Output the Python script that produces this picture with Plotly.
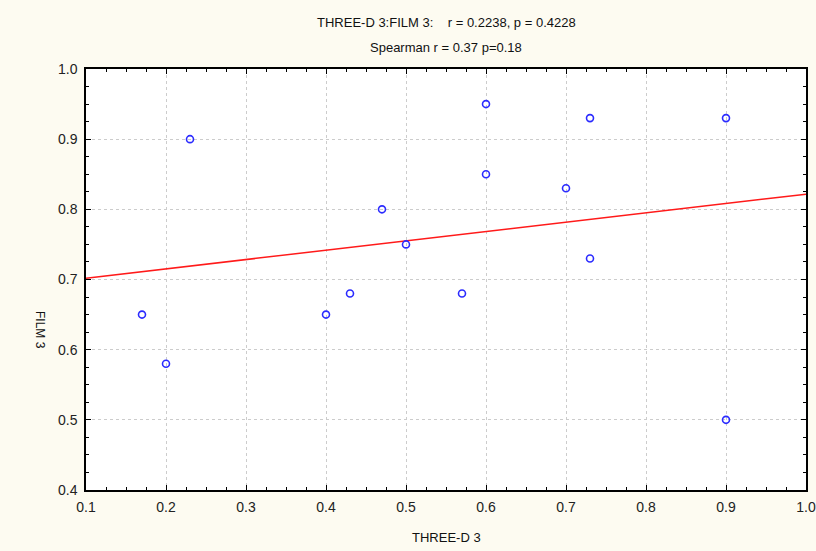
import numpy as np
import plotly.graph_objects as go

three_d3 = [0.17, 0.20, 0.23, 0.40, 0.43, 0.47, 0.50, 0.57, 0.60, 0.60, 0.70, 0.73, 0.73, 0.90, 0.90]
film3 = [0.65, 0.58, 0.90, 0.65, 0.68, 0.80, 0.75, 0.68, 0.95, 0.85, 0.83, 0.93, 0.73, 0.93, 0.50]
title_lines = ["THREE-D 3:FILM 3:    r = 0.2238, p = 0.4228", "Spearman r = 0.37 p=0.18"]
x_label = "THREE-D 3"
y_label = "FILM 3"

slope, intercept = np.polyfit(three_d3, film3, 1)
line_x = [0.1, 1.0]
line_y = [intercept + slope * v for v in line_x]

font = "Liberation Sans, Arial, sans-serif"
fig = go.Figure()
fig.add_trace(go.Scatter(x=line_x, y=line_y, mode="lines",
                         line=dict(color="#ff1a1a", width=1.5), hoverinfo="skip"))
fig.add_trace(go.Scatter(x=three_d3, y=film3, mode="markers",
                         marker=dict(symbol="circle-open", size=7, color="#2b2bff",
                                     line=dict(width=1.6, color="#2b2bff"))))

axis_common = dict(showline=True, linecolor="black", linewidth=1.5, mirror="ticks",
                   ticks="inside", ticklen=5, tickcolor="black", tickwidth=1,
                   showgrid=True, gridcolor="#cccccc", griddash="dot", gridwidth=1,
                   zeroline=False, tickformat=".1f", automargin=False,
                   tickfont=dict(family=font, size=14, color="#222"))
fig.update_xaxes(range=[0.1, 1.0], dtick=0.1, tick0=0.1, ticklabelstandoff=3,
                 minor=dict(ticks="inside", ticklen=3, dtick=0.025, tick0=0.1,
                            tickcolor="black", showgrid=False),
                 **axis_common)
fig.update_yaxes(range=[0.4, 1.0], dtick=0.1, tick0=0.4, ticklabelstandoff=4,
                 minor=dict(ticks="inside", ticklen=3, dtick=0.025, tick0=0.4,
                            tickcolor="black", showgrid=False),
                 **axis_common)

fig.add_annotation(text=title_lines[0], xref="paper", yref="paper", x=0.5, y=1.0,
                   yanchor="middle", yshift=47, showarrow=False,
                   font=dict(family=font, size=13, color="#111"))
fig.add_annotation(text=title_lines[1], xref="paper", yref="paper", x=0.5, y=1.0,
                   yanchor="middle", yshift=22, showarrow=False,
                   font=dict(family=font, size=13, color="#111"))
fig.add_annotation(text=x_label, xref="paper", yref="paper", x=0.5, y=0,
                   yanchor="middle", yshift=-47, showarrow=False,
                   font=dict(family=font, size=13, color="#111"))
fig.add_annotation(text=y_label, xref="paper", yref="paper", x=0, y=0.38,
                   xanchor="center", yanchor="middle", xshift=-46, textangle=90,
                   showarrow=False, font=dict(family=font, size=12, color="#111"))

fig.update_layout(width=816, height=551, showlegend=False,
                  margin=dict(l=86, r=10, t=69, b=61, autoexpand=False),
                  paper_bgcolor="#fdfbf1", plot_bgcolor="white")
fig.write_html("out.html")
